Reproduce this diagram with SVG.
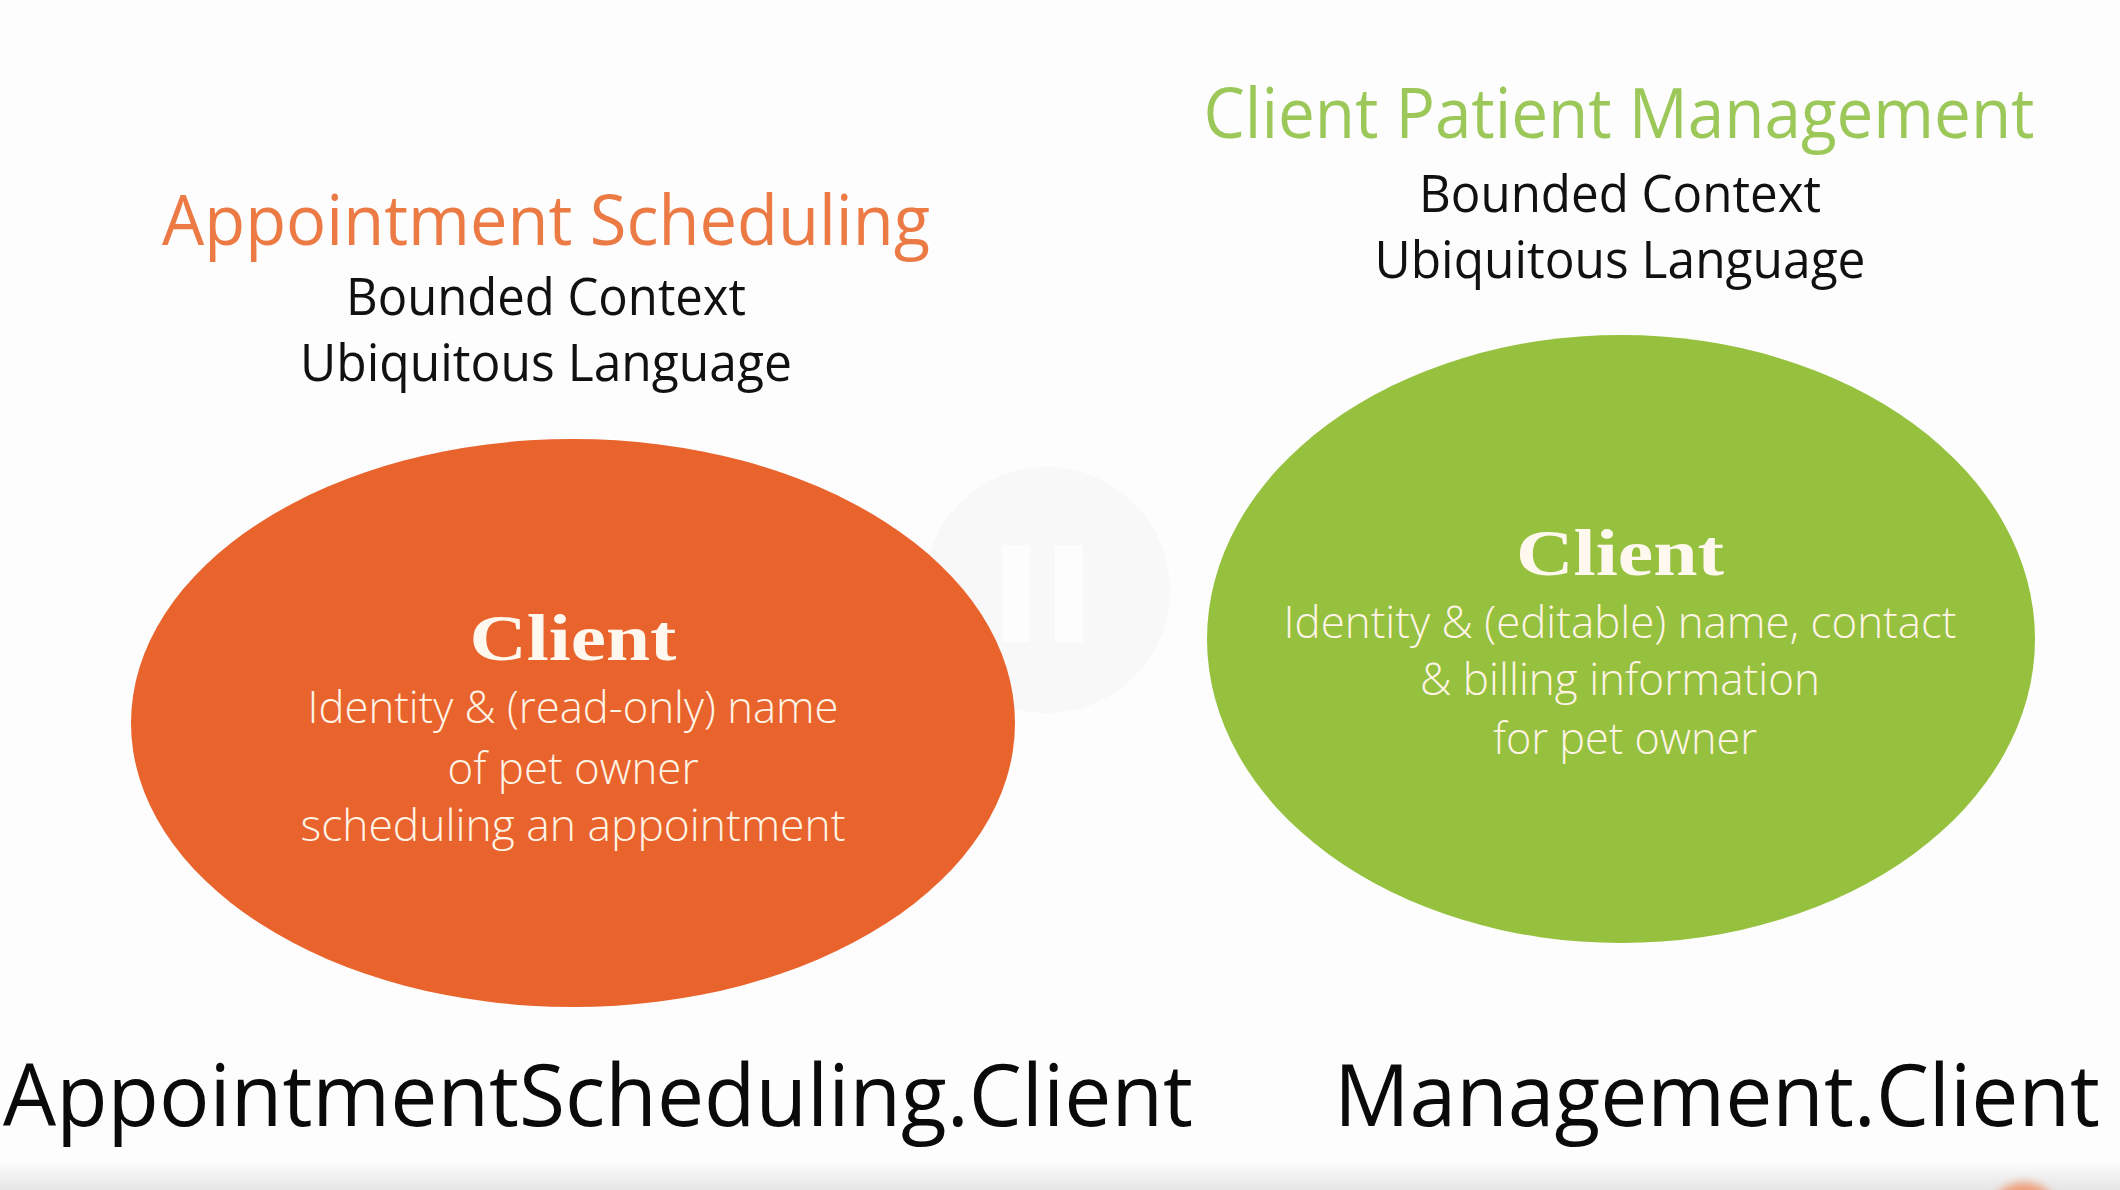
<svg xmlns="http://www.w3.org/2000/svg" width="2120" height="1190" viewBox="0 0 2120 1190">
  <defs>
    <linearGradient id="footShade" x1="0" y1="0" x2="0" y2="1">
      <stop offset="0" stop-color="#fdfdfd"/>
      <stop offset="1" stop-color="#e6e6e6"/>
    </linearGradient>
    <filter id="soft" x="-50%" y="-50%" width="200%" height="200%">
      <feGaussianBlur stdDeviation="4"/>
    </filter>
    <style>
      .sans { font-family: "Open Sans", "Noto Sans", "Liberation Sans", sans-serif; }
      .title { font-size: 70px; }
      .sub { font-size: 51px; fill: #111; }
      .serif { font-family: "Liberation Serif", "DejaVu Serif", serif; font-weight: bold; font-size: 66px; fill: #fff8ee; }
      .body { font-family: "Open Sans", "Noto Sans", "Liberation Sans", sans-serif; font-weight: 300; font-size: 44px; fill: #fff4e6; }
      .ns { font-family: "Open Sans", "Noto Sans", "Liberation Sans", sans-serif; font-size: 86px; fill: #0a0a0a; }
    </style>
  </defs>

  <!-- page background -->
  <rect x="0" y="0" width="2120" height="1190" fill="#fdfdfd"/>
  <rect x="0" y="1160" width="2120" height="30" fill="url(#footShade)"/>

  <!-- faint playback overlay -->
  <g id="overlay">
    <circle cx="1047" cy="590" r="123" fill="#f8f8f8"/>
    <rect x="1002" y="545" width="28" height="97" fill="#fdfdfd"/>
    <rect x="1055" y="545" width="28" height="97" fill="#fdfdfd"/>
  </g>
  <circle cx="2024" cy="1218" r="36" fill="#eea07c" filter="url(#soft)"/>

  <!-- Appointment Scheduling context -->
  <g id="appointment-scheduling">
    <text class="sans title" x="546" y="245" text-anchor="middle" fill="#eb7a45" textLength="768" lengthAdjust="spacingAndGlyphs">Appointment Scheduling</text>
    <text class="sans sub" x="546" y="315" text-anchor="middle" textLength="400" lengthAdjust="spacingAndGlyphs">Bounded Context</text>
    <text class="sans sub" x="546" y="381" text-anchor="middle" textLength="492" lengthAdjust="spacingAndGlyphs">Ubiquitous Language</text>
  </g>

  <g id="appointment-client">
    <ellipse cx="573" cy="723" rx="442" ry="284" fill="#e9632d"/>
    <text class="serif" x="573" y="660" text-anchor="middle" textLength="207" lengthAdjust="spacingAndGlyphs">Client</text>
    <text class="body" x="573" y="723" text-anchor="middle" textLength="531" lengthAdjust="spacingAndGlyphs">Identity &amp; (read-only) name</text>
    <text class="body" x="573" y="784" text-anchor="middle" textLength="251" lengthAdjust="spacingAndGlyphs">of pet owner</text>
    <text class="body" x="573" y="841" text-anchor="middle" textLength="545" lengthAdjust="spacingAndGlyphs">scheduling an appointment</text>
  </g>

  <!-- Client Patient Management context -->
  <g id="client-patient-management">
    <text class="sans title" x="1619" y="138" text-anchor="middle" fill="#9cc85a" textLength="831" lengthAdjust="spacingAndGlyphs">Client Patient Management</text>
    <text class="sans sub" x="1620" y="212" text-anchor="middle" textLength="402" lengthAdjust="spacingAndGlyphs">Bounded Context</text>
    <text class="sans sub" x="1620" y="278" text-anchor="middle" textLength="491" lengthAdjust="spacingAndGlyphs">Ubiquitous Language</text>
  </g>

  <g id="management-client">
    <ellipse cx="1621" cy="639" rx="414" ry="304" fill="#95c13e"/>
    <text class="serif" x="1620" y="575" text-anchor="middle" textLength="208" lengthAdjust="spacingAndGlyphs">Client</text>
    <text class="body" x="1620" y="638" text-anchor="middle" textLength="673" lengthAdjust="spacingAndGlyphs">Identity &amp; (editable) name, contact</text>
    <text class="body" x="1620" y="695" text-anchor="middle" textLength="400" lengthAdjust="spacingAndGlyphs">&amp; billing information</text>
    <text class="body" x="1625" y="754" text-anchor="middle" textLength="264" lengthAdjust="spacingAndGlyphs">for pet owner</text>
  </g>

  <!-- namespace labels -->
  <g id="namespaces">
    <text class="ns" x="3" y="1126" textLength="1190" lengthAdjust="spacingAndGlyphs">AppointmentScheduling.Client</text>
    <text class="ns" x="2100" y="1126" text-anchor="end" textLength="766" lengthAdjust="spacingAndGlyphs">Management.Client</text>
  </g>

  <!-- no connectors in this figure -->
  <g id="connectors"/>
</svg>
